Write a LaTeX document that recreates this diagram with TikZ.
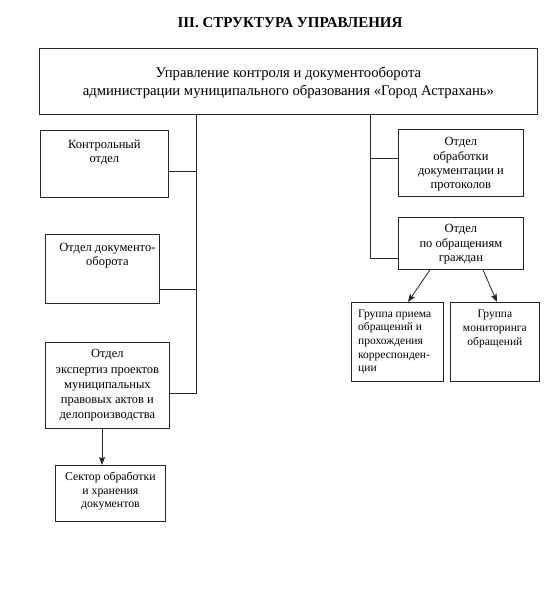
\documentclass[tikz,border=0pt]{standalone}
\usepackage{fontspec}
\setmainfont{Liberation Serif}
\usetikzlibrary{arrows.meta,calc}
\begin{document}
\begin{tikzpicture}[x=1pt,y=-1pt,
  box/.style={draw=black!85, line width=0.8pt, anchor=north west, inner sep=0pt},
  txt/.style={align=center, inner sep=0pt, font=\fontsize{12.5}{14.2}\selectfont},
  small/.style={align=center, inner sep=0pt, font=\fontsize{11.5}{13.6}\selectfont},
  conn/.style={draw=black!85, line width=0.8pt},
  arr/.style={conn, -{Stealth[length=8pt,width=6pt,inset=1.5pt]}}]
\useasboundingbox (0,0) rectangle (557,590);
% title
\node[inner sep=0pt, font=\fontsize{15}{17}\selectfont\bfseries] (title) at (290,23) {III. СТРУКТУРА УПРАВЛЕНИЯ};
% boxes
\node[box, minimum width=498pt, minimum height=66pt] (main) at (39,48) {};
\node[txt, font=\fontsize{14.7}{18}\selectfont, anchor=north] at ([yshift=-19pt]main.north) {Управление контроля и документооборота\\администрации муниципального образования «Город Астрахань»};

\node[box, minimum width=128pt, minimum height=67pt] (kontr) at (40,130) {};
\node[txt, anchor=north] at ([yshift=-9.5pt]kontr.north) {Контрольный\\отдел};

\node[box, minimum width=114pt, minimum height=69pt] (dok) at (45,234) {};
\node[txt, anchor=north] at ([yshift=-9pt,xshift=5pt]dok.north) {Отдел документо-\\оборота};

\node[box, minimum width=124pt, minimum height=86pt] (exp) at (45,342) {};
\node[txt, font=\fontsize{12.5}{15.2}\selectfont, anchor=north] at ([yshift=-7.5pt]exp.north) {Отдел\\экспертиз проектов\\муниципальных\\правовых актов и\\делопроизводства};

\node[box, minimum width=110pt, minimum height=56pt] (sect) at (55,465) {};
\node[small, font=\fontsize{11.8}{13.4}\selectfont, anchor=north] at ([yshift=-7pt]sect.north) {Сектор обработки\\и хранения\\документов};

\node[box, minimum width=125pt, minimum height=67pt] (obr) at (398,129) {};
\node[txt, anchor=north] at ([yshift=-8.5pt]obr.north) {Отдел\\обработки\\документации и\\протоколов};

\node[box, minimum width=125pt, minimum height=52pt] (grazh) at (398,217) {};
\node[txt, anchor=north] at ([yshift=-7.5pt]grazh.north) {Отдел\\по обращениям\\граждан};

\node[box, minimum width=92pt, minimum height=79pt] (g1) at (351,302) {};
\node[small, align=left, anchor=north west] at ([xshift=7pt,yshift=-7.5pt]g1.north west) {Группа приема\\обращений и\\прохождения\\корреспонден-\\ции};

\node[box, minimum width=89pt, minimum height=79pt] (g2) at (450,302) {};
\node[small, font=\fontsize{11.5}{14.2}\selectfont, anchor=north] at ([yshift=-7.5pt]g2.north) {Группа\\мониторинга\\обращений};

% left trunk
\coordinate (lt) at (196,393);
\coordinate (lb1) at (196,171);
\coordinate (lb2) at (196,289);
\draw[conn] (main.south -| lt) -- (lt) -- (lt -| exp.east);
\draw[conn] (lb1) -- (lb1 -| kontr.east);
\draw[conn] (lb2) -- (lb2 -| dok.east);
\draw[arr] (exp.south -| 102,0) -- (sect.north -| 102,0);
% right trunk
\coordinate (rt) at (370,258);
\coordinate (rb1) at (370,158);
\draw[conn] (main.south -| rt) -- (rt) -- (rt -| grazh.west);
\draw[conn] (rb1) -- (rb1 -| obr.west);
\draw[arr] (grazh.south -| 430,0) -- (g1.north -| 408,0);
\draw[arr] (grazh.south -| 483,0) -- (g2.north -| 497,0);
\end{tikzpicture}
\end{document}
